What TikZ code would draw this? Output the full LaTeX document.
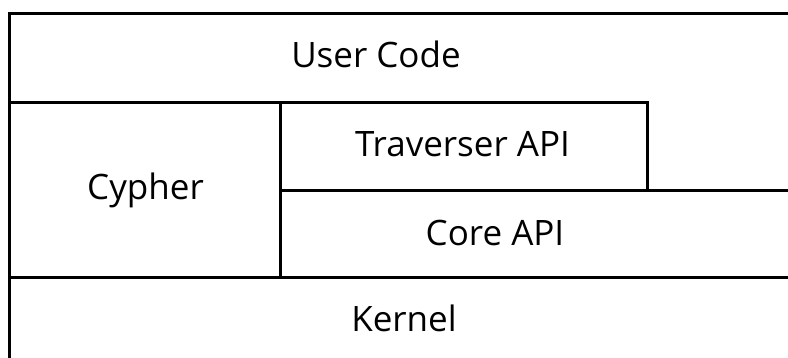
\documentclass[tikz,border=0pt]{standalone}
\usepackage{fontspec}
\setmainfont{Open Sans}
\begin{document}
\begin{tikzpicture}[x=1pt,y=-1pt,
  layer/.style={line width=3pt,line cap=butt,line join=miter},
  label/.style={anchor=base,inner sep=0pt,font=\fontsize{35}{38}\selectfont}]
\useasboundingbox (0,0) rectangle (788,358);
% outer frame: top edge and left edge
\draw[layer] (792,13.5) -- (9.5,13.5) -- (9.5,362);
% user code / lower layers boundary and traverser box
\draw[layer] (9.5,102.5) -- (647.5,102.5) -- (647.5,190.5);
% cypher column
\draw[layer] (280.5,102.5) -- (280.5,278);
% traverser / core boundary
\draw[layer] (280.5,190.5) -- (792,190.5);
% kernel boundary
\draw[layer] (9.5,278) -- (792,278);
% layer names
\node[label] (user) at (376,67.3) {User Code};
\node[label] (cypher) at (145.5,200) {Cypher};
\node[label] (trav) at (462.5,157) {Traverser API};
\node[label] (core) at (495,245.7) {Core API};
\node[label] (kernel) at (404,332) {Kernel};
\end{tikzpicture}
\end{document}
